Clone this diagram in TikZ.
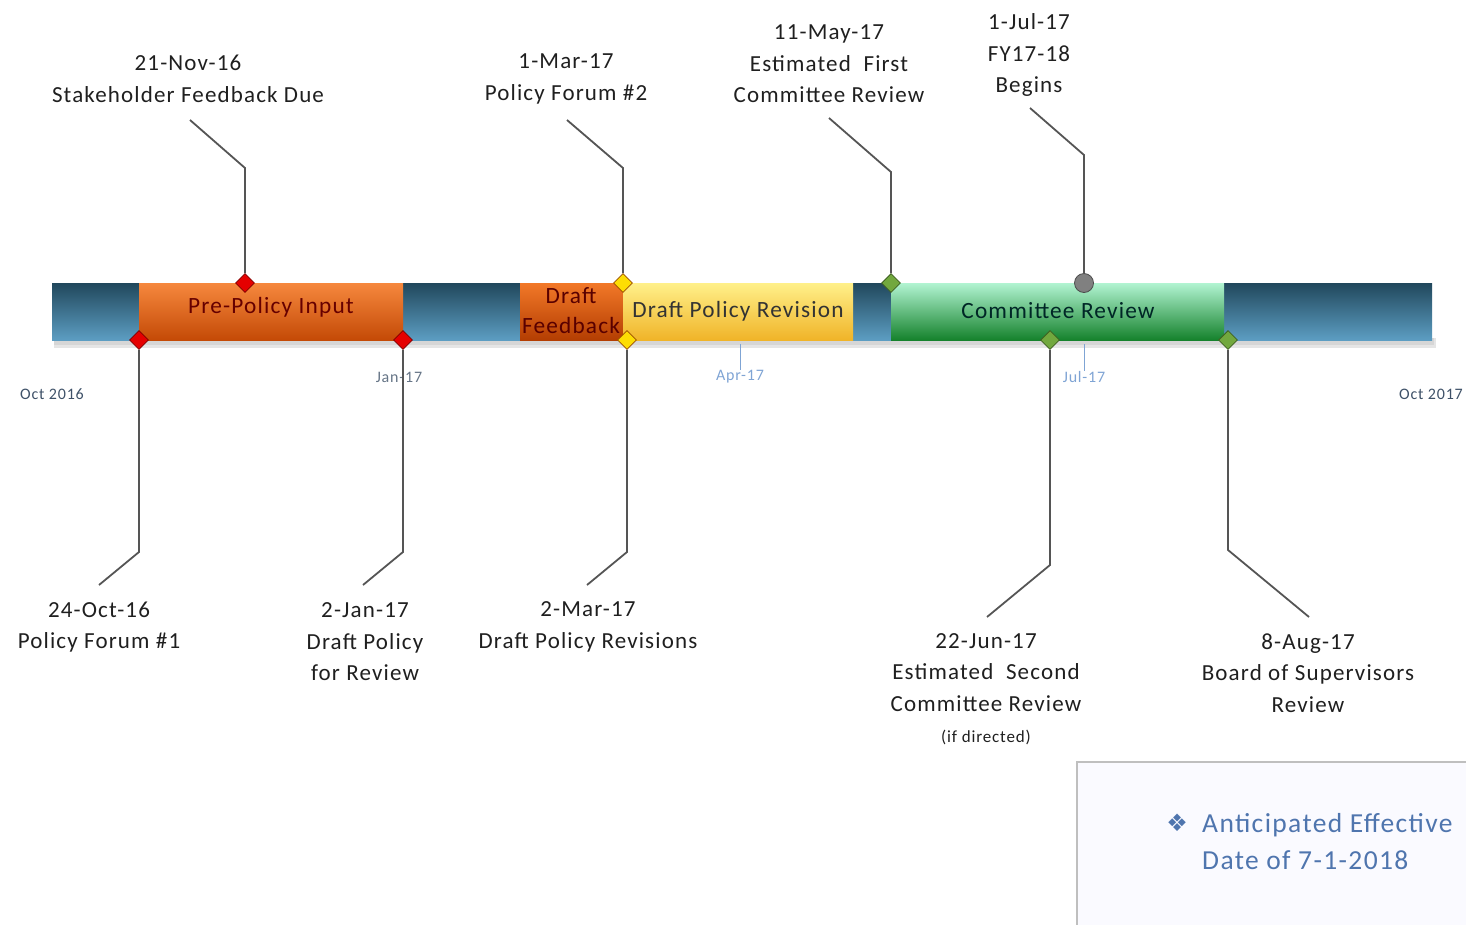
\documentclass[tikz,border=0pt]{standalone}
\usepackage{fontspec}
\setmainfont{Carlito}[LetterSpace=5]
\newfontfamily\symfont{DejaVu Sans}
\usetikzlibrary{shapes.geometric}
\definecolor{bartop}{HTML}{21485C}
\definecolor{barbot}{HTML}{5C9DC2}
\definecolor{ortop}{HTML}{F6883E}
\definecolor{orbot}{HTML}{C44A06}
\definecolor{dftop}{HTML}{F27828}
\definecolor{dfbot}{HTML}{B43E02}
\definecolor{yetop}{HTML}{FFF08A}
\definecolor{yebot}{HTML}{F0B428}
\definecolor{grtop}{HTML}{B2F4D2}
\definecolor{grmid}{HTML}{6EDC9C}
\definecolor{grbot}{HTML}{15822C}
\definecolor{lnc}{HTML}{555555}
\definecolor{axc}{HTML}{3E5168}
\definecolor{axl}{HTML}{7FA4D4}
\definecolor{boxtxt}{HTML}{4F75AE}
\definecolor{msgreen}{HTML}{72A83E}
\definecolor{msgreend}{HTML}{3E6020}
\begin{document}
\begin{tikzpicture}[x=1pt,y=-1pt,
  lbl/.style={align=center,text=black!88,font=\fontsize{23}{31.5}\selectfont,inner sep=0pt},
  seglbl/.style={align=center,font=\fontsize{23.3}{30}\selectfont,inner sep=0pt},
  conn/.style={draw=lnc,line width=1.8pt},
  redms/.style={diamond,draw=red!50!black,fill=red!90!black,line width=0.8pt,minimum size=19pt,inner sep=0pt},
  yelms/.style={diamond,draw=orange!60!black,fill=yellow!80!orange,line width=0.8pt,minimum size=19pt,inner sep=0pt},
  grnms/.style={diamond,draw=msgreend,fill=msgreen,line width=0.8pt,minimum size=19pt,inner sep=0pt},
  greyms/.style={circle,draw=black!70,fill=black!50,line width=0.8pt,minimum size=19pt,inner sep=0pt},
  axlbl/.style={font=\fontsize{16}{18}\selectfont,inner sep=0pt},
  tick/.style={draw=axl,line width=1pt}]
\useasboundingbox (0,0) rectangle (1466,924);
% soft shadow of bar
\fill[black!10] (54,338) rectangle (1436,348);
\fill[black!16] (54,338) rectangle (1434,345);
% bar
\shade[top color=bartop,bottom color=barbot] (52,283) rectangle (1432,340);
% segments
\shade[top color=ortop,bottom color=orbot] (139,283) rectangle (403,340);
\shade[top color=dftop,bottom color=dfbot] (520,283) rectangle (623,340);
\shade[top color=yetop,bottom color=yebot] (623,283) rectangle (853,340);
\shade[top color=grtop,middle color=grmid,bottom color=grbot] (891,283) rectangle (1224,340);
\node[seglbl,text=red!40!black] (s1) at (271,307) {Pre-Policy Input};
\node[seglbl,text=red!35!black] (s2) at (571,311) {Draft\\Feedback};
\node[seglbl,text=black!80] (s3) at (738,311) {Draft Policy Revision};
\node[seglbl,text=teal!30!black] (s4) at (1058,311) {Committee Review};
% axis labels and ticks
\node[axlbl,text=axc] (ax1) at (52,394) {Oct 2016};
\node[axlbl,text=axc!80] (ax2) at (399,377) {Jan-17};
\node[axlbl,text=axl] (ax3) at (740,377) {Apr-17};
\node[axlbl,text=axl] (ax4) at (1084,377) {Jul-17};
\node[axlbl,text=axc] (ax5) at (1431,394) {Oct 2017};
\draw[tick] (740,344) -- (ax3.north);
\draw[tick] (1084,344) -- (ax4.north);
% milestones
\node[redms] (m1) at (245,283) {};
\node[redms] (m2) at (139,340) {};
\node[redms] (m3) at (403,340) {};
\node[yelms] (m4) at (623,283) {};
\node[yelms] (m5) at (627,340) {};
\node[grnms] (m6) at (891,283) {};
\node[greyms] (m7) at (1084,283) {};
\node[grnms] (m8) at (1050,340) {};
\node[grnms] (m9) at (1228,340) {};
% labels
\node[lbl] (l1) at (188,79) {21-Nov-16\\Stakeholder Feedback Due};
\node[lbl] (l2) at (99,627) {24-Oct-16\\Policy Forum \#1};
\node[lbl] (l3) at (365,642) {2-Jan-17\\Draft Policy\\for Review};
\node[lbl] (l4) at (566,79) {1-Mar-17\\Policy Forum \#2};
\node[lbl] (l5) at (588,627) {2-Mar-17\\Draft Policy Revisions};
\node[lbl] (l6) at (829,64) {11-May-17\\Estimated~ First\\Committee Review};
\node[lbl] (l7) at (1029,55) {1-Jul-17\\FY17-18\\Begins};
\node[lbl,anchor=north] (l8) at (986,633) {22-Jun-17\\Estimated~ Second\\Committee Review\\{\fontsize{17}{31.5}\selectfont (if directed)}};
\node[lbl] (l9) at (1308,673) {8-Aug-17\\Board of Supervisors\\Review};
% bend and end coordinates
\coordinate (b1) at (245,168); \coordinate (e1) at (190,120);
\coordinate (b2) at (139,552); \coordinate (e2) at (99,585);
\coordinate (b3) at (403,552); \coordinate (e3) at (363,585);
\coordinate (b4) at (623,168); \coordinate (e4) at (567,120);
\coordinate (b5) at (627,552); \coordinate (e5) at (587,585);
\coordinate (b6) at (891,172); \coordinate (e6) at (829,118);
\coordinate (b7) at (1084,155); \coordinate (e7) at (1030,108);
\coordinate (b8) at (1050,565); \coordinate (e8) at (987,617);
\coordinate (b9) at (1228,550); \coordinate (e9) at (1309,617);
\draw[conn] (m1.north) -- (b1) -- (e1);
\draw[conn] (m2.south) -- (b2) -- (e2);
\draw[conn] (m3.south) -- (b3) -- (e3);
\draw[conn] (m4.north) -- (b4) -- (e4);
\draw[conn] (m5.south) -- (b5) -- (e5);
\draw[conn] (m6.north) -- (b6) -- (e6);
\draw[conn] (m7.north) -- (b7) -- (e7);
\draw[conn] (m8.south) -- (b8) -- (e8);
\draw[conn] (m9.south) -- (b9) -- (e9);
% note box
\draw[draw=black!25,fill=blue!2!white,line width=1.2pt] (1077,762) rectangle (1472,930);
\node[text=boxtxt,font=\symfont\fontsize{24}{28}\selectfont,inner sep=0pt] (bul) at (1177,823) {❖};
\node[anchor=west,align=left,text=boxtxt,font=\fontsize{27.5}{37}\selectfont,inner sep=0pt] (note) at (1202,842) {Anticipated Effective\\Date of 7-1-2018};
\end{tikzpicture}
\end{document}
